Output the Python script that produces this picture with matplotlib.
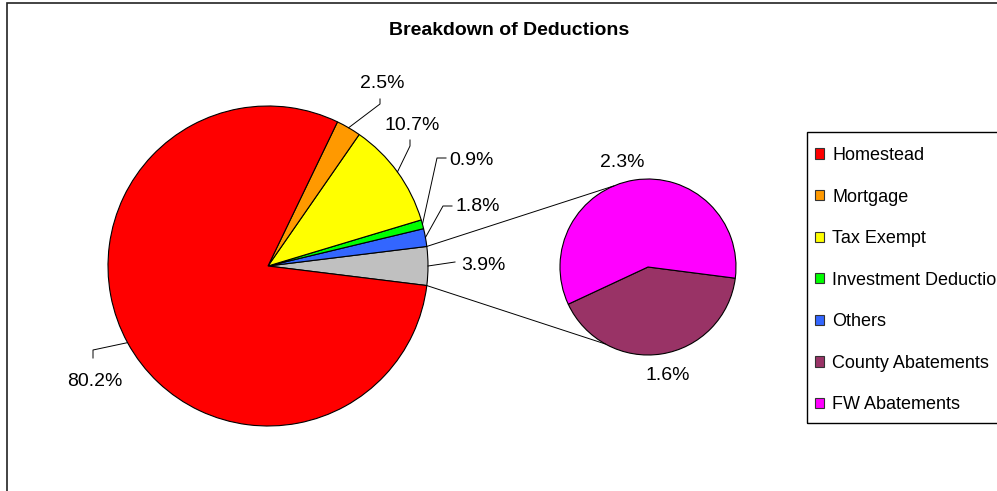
import matplotlib
matplotlib.use("Agg")
import matplotlib.pyplot as plt
import matplotlib.patches as mpatches
import numpy as np

plt.rcParams['font.family'] = ['Liberation Sans', 'DejaVu Sans']

# ---- data ----
main_labels = ["Homestead", "Mortgage", "Tax Exempt", "Investment Deduction", "Others"]
main_values = [80.2, 2.5, 10.7, 0.9, 1.8]
main_colors = ["#FF0000", "#FF9900", "#FFFF00", "#00FF00", "#3366FF"]

other_labels = ["County Abatements", "FW Abatements"]
other_values = [1.6, 2.3]
other_colors = ["#993366", "#FF00FF"]
other_group_color = "#C0C0C0"

W, H = 997, 491


def img_y(y):
    # picture coords (top-down) -> axes coords (bottom-up)
    return H - y


fig = plt.figure(figsize=(W / 100, H / 100), dpi=100)
ax = fig.add_axes([0, 0, 1, 1])

# ---- main pie: gray "other" slice centred at 3 o'clock, the rest counterclockwise ----
other_total = sum(other_values)
pie_vals = [other_total] + main_values[::-1]
pie_cols = [other_group_color] + main_colors[::-1]
main_c = (268, img_y(266))
main_r = 160
start = -other_total / 100 * 360 / 2
wedges, _ = ax.pie(pie_vals, colors=pie_cols, startangle=start, counterclock=True,
                   center=main_c, radius=main_r, frame=True,
                   wedgeprops=dict(edgecolor="black", linewidth=0.8))

# ---- secondary pie ----
sec_c = (648, img_y(267))
sec_r = 88
ax.pie(other_values, colors=other_colors, startangle=205, counterclock=True,
       center=sec_c, radius=sec_r, frame=True,
       wedgeprops=dict(edgecolor="black", linewidth=0.8))


def edge_pt(c, r, ang):
    a = np.deg2rad(ang)
    return c[0] + r * np.cos(a), c[1] + r * np.sin(a)


# connector lines between the gray slice and the secondary pie
g = wedges[0]
p1 = edge_pt(main_c, main_r, g.theta2)
p2 = edge_pt(sec_c, sec_r, 113)
ax.plot([p1[0], p2[0]], [p1[1], p2[1]], color="black", lw=0.7)
p1 = edge_pt(main_c, main_r, g.theta1)
p2 = edge_pt(sec_c, sec_r, 241)
ax.plot([p1[0], p2[0]], [p1[1], p2[1]], color="black", lw=0.7)

# ---- data labels with leader lines (label pos, elbow points) ----
lab_fs = 14
# order of wedges: gray, Others, Investment, Tax Exempt, Mortgage, Homestead
label_specs = [
    # wedge idx, text, (label x, y, ha), elbow points
    (5, "%.1f%%" % main_values[0], (95, 381, "center"), [(93, 350), (93, 358)]),
    (4, "%.1f%%" % main_values[1], (382, 83, "center"), [(380, 104), (380, 99)]),
    (3, "%.1f%%" % main_values[2], (412, 125, "center"), [(410, 146), (410, 140)]),
    (2, "%.1f%%" % main_values[3], (449, 160, "left"), [(437, 158), (446, 158)]),
    (1, "%.1f%%" % main_values[4], (455, 206, "left"), [(443, 206), (452, 206)]),
    (0, "%.1f%%" % other_total, (461, 266, "left"), [(455, 262)]),
]
for idx, txt, (lx, ly, ha), elbows in label_specs:
    w = wedges[idx]
    mid = (w.theta1 + w.theta2) / 2
    sx, sy = edge_pt(main_c, main_r, mid)
    xs = [sx] + [e[0] for e in elbows]
    ys = [sy] + [img_y(e[1]) for e in elbows]
    ax.plot(xs, ys, color="black", lw=0.7)
    ax.text(lx, img_y(ly), txt, ha=ha, va="center", fontsize=lab_fs, color="black")

ax.text(622, img_y(162), "%.1f%%" % other_values[1], ha="center", va="center",
        fontsize=lab_fs, color="black")
ax.text(668, img_y(375), "%.1f%%" % other_values[0], ha="center", va="center",
        fontsize=lab_fs, color="black")

# ---- title ----
ax.text(509, img_y(30), "Breakdown of Deductions", ha="center", va="center",
        fontsize=14, fontweight="bold", color="black")

# ---- chart border (runs off the right and bottom) ----
ax.add_patch(mpatches.Rectangle((7, -20), W + 20, img_y(3) + 20, fill=False,
                                edgecolor="#222222", lw=1.2, clip_on=False))

# ---- legend box (runs off the right edge like the original) ----
ax.add_patch(mpatches.Rectangle((807, img_y(423)), 300, 423 - 132, fill=False,
                                edgecolor="black", lw=1.0, clip_on=False))
handles = [mpatches.Patch(facecolor=c, edgecolor="#333333", linewidth=0.8, label=l)
           for c, l in zip(main_colors + other_colors, main_labels + other_labels)]
leg = fig.legend(handles=handles, loc="upper left",
                 bbox_to_anchor=(815 / W, 1 - 147 / H),
                 fontsize=13, frameon=False,
                 borderpad=0, labelspacing=1.36, handlelength=0.5,
                 handleheight=0.5, handletextpad=0.45, borderaxespad=0)

ax.set_xlim(0, W)
ax.set_ylim(0, H)
ax.set_aspect("equal")
ax.axis("off")

fig.savefig("out.png", dpi=100)
